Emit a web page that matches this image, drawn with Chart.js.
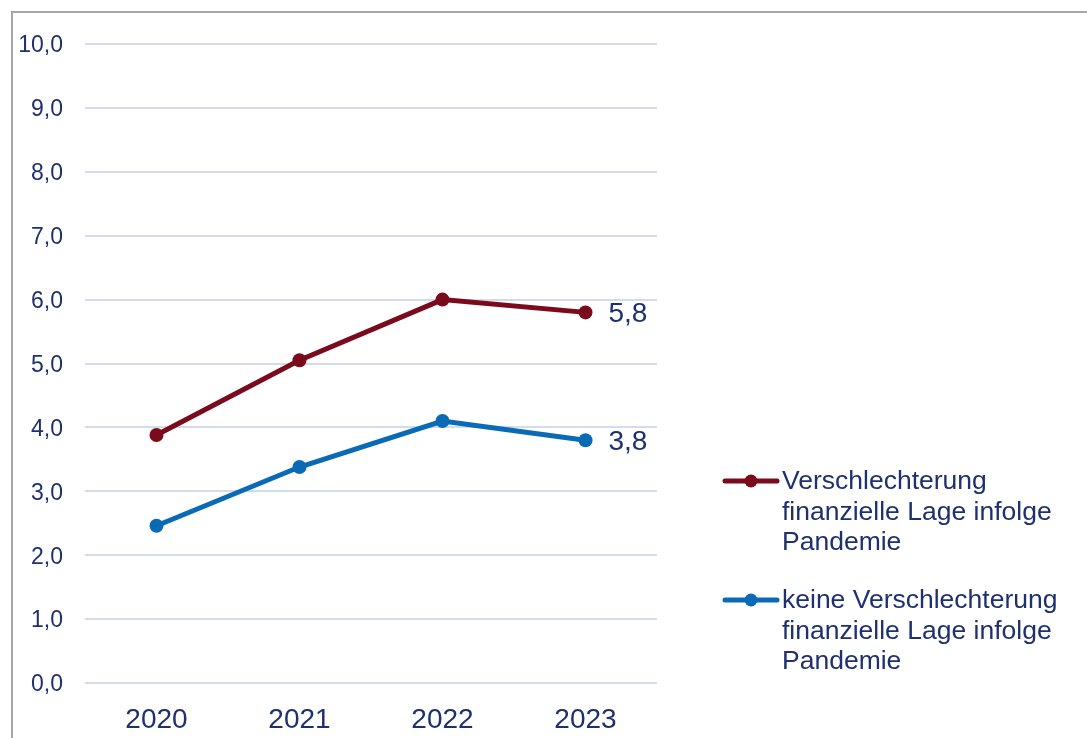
<!DOCTYPE html>
<html>
<head>
<meta charset="utf-8">
<script src="https://cdn.jsdelivr.net/npm/chart.js@4/dist/chart.umd.min.js"></script>
<style>
  html, body { margin: 0; padding: 0; background: #fff; }
  #wrap { position: relative; width: 1087px; height: 738px; overflow: hidden; }
  #frame { position: absolute; left: 11px; top: 11px; width: 1100px; height: 760px;
           border-top: 2px solid #a6a6a6; border-left: 2px solid #a6a6a6; box-sizing: border-box; }
  canvas { position: absolute; left: 0; top: 0; }
</style>
</head>
<body>
<div id="wrap">
  <div id="frame"></div>
  <canvas id="chart" width="1087" height="738"></canvas>
</div>
<script>
const years = ['2020', '2021', '2022', '2023'];
const worse = [3.88, 5.05, 6.0, 5.8];
const notWorse = [2.46, 3.38, 4.1, 3.8];
const worseLabel = ['Verschlechterung', 'finanzielle Lage infolge', 'Pandemie'];
const notWorseLabel = ['keine Verschlechterung', 'finanzielle Lage infolge', 'Pandemie'];

const textColor = '#1f3070';
const fontFamily = '"Liberation Sans", Arial, sans-serif';

const fmt = v => v.toFixed(1).replace('.', ',');

// value next to the last point of each line
const endLabels = {
    id: 'endLabels',
    afterDatasetsDraw(chart) {
        const ctx = chart.ctx;
        ctx.save();
        ctx.font = '28px ' + fontFamily;
        ctx.fillStyle = textColor;
        ctx.textBaseline = 'middle';
        ctx.textAlign = 'left';
        chart.data.datasets.forEach((ds, i) => {
            const pts = chart.getDatasetMeta(i).data;
            const last = pts[pts.length - 1];
            ctx.fillText(fmt(ds.data[ds.data.length - 1]), last.x + 23, last.y + 2);
        });
        ctx.restore();
    }
};

// legend at the right with wrapped labels
const sideLegend = {
    id: 'sideLegend',
    afterDraw(chart) {
        const ctx = chart.ctx;
        ctx.save();
        const tops = [481, 600];
        chart.data.datasets.forEach((ds, i) => {
            const y = tops[i];
            ctx.strokeStyle = ds.borderColor;
            ctx.lineWidth = 5;
            ctx.lineCap = 'round';
            ctx.beginPath();
            ctx.moveTo(725, y);
            ctx.lineTo(777, y);
            ctx.stroke();
            ctx.fillStyle = ds.borderColor;
            ctx.beginPath();
            ctx.arc(751, y, 6.5, 0, Math.PI * 2);
            ctx.fill();
            ctx.font = '26.5px ' + fontFamily;
            ctx.fillStyle = textColor;
            ctx.textBaseline = 'middle';
            ctx.textAlign = 'left';
            ds.legendLines.forEach((line, j) => {
                ctx.fillText(line, 782, y + 1 + j * 30.5);
            });
        });
        ctx.restore();
    }
};

new Chart(document.getElementById('chart'), {
    type: 'line',
    data: {
        labels: years,
        datasets: [
            { label: worseLabel.join(' '), legendLines: worseLabel, data: worse,
              borderColor: '#7a0a1c', backgroundColor: '#7a0a1c',
              borderWidth: 5, pointRadius: 7, pointBorderWidth: 0, pointHoverRadius: 7, tension: 0 },
            { label: notWorseLabel.join(' '), legendLines: notWorseLabel, data: notWorse,
              borderColor: '#0b6ab5', backgroundColor: '#0b6ab5',
              borderWidth: 5, pointRadius: 7, pointBorderWidth: 0, pointHoverRadius: 7, tension: 0 }
        ]
    },
    options: {
        responsive: false,
        animation: false,
        layout: { padding: { left: 0, top: 44, right: 430, bottom: 0 } },
        plugins: { legend: { display: false }, tooltip: { enabled: false } },
        scales: {
            x: {
                offset: true,
                grid: { display: false, drawTicks: false },
                border: { display: false },
                ticks: { color: textColor, font: { family: fontFamily, size: 28 }, padding: 20 },
                afterFit: s => { s.height = 55; }
            },
            y: {
                min: 0, max: 10,
                ticks: { stepSize: 1, color: textColor, font: { family: fontFamily, size: 23 },
                         padding: 22, labelOffset: 2, callback: v => fmt(v) },
                grid: { color: '#d3dcef', lineWidth: 2, drawTicks: false },
                border: { display: false },
                afterFit: s => { s.width = 85; }
            }
        }
    },
    plugins: [endLabels, sideLegend]
});
</script>
</body>
</html>
